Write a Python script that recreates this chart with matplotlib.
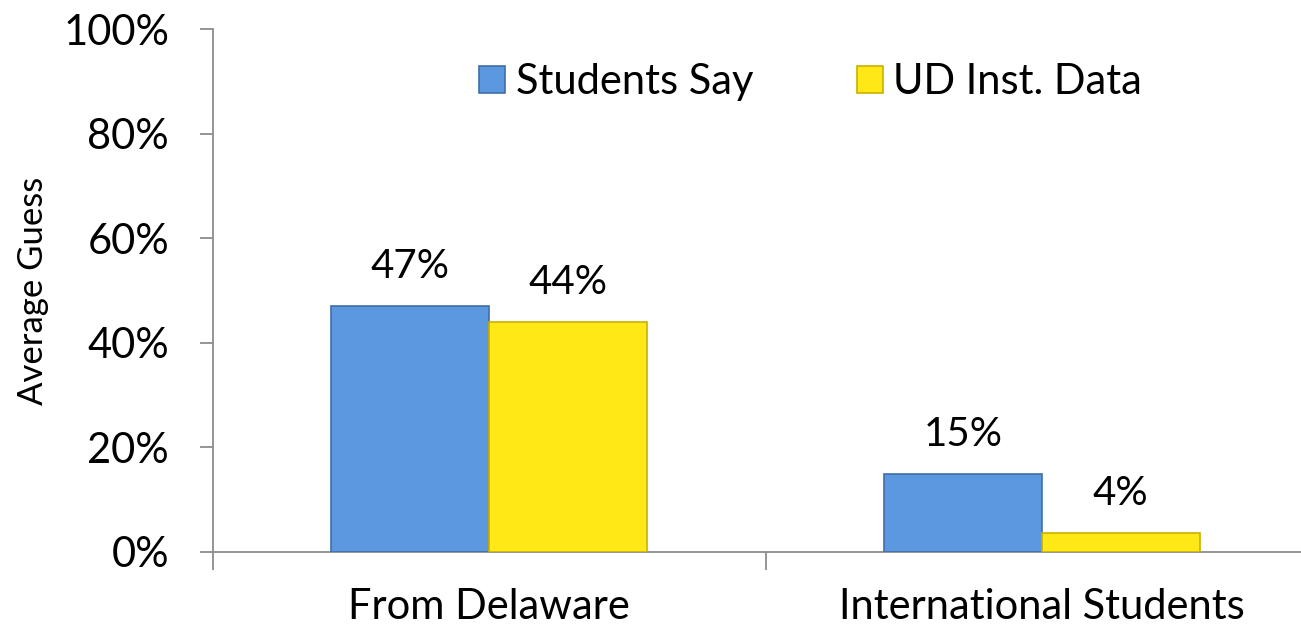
import matplotlib.pyplot as plt
import numpy as np

plt.rcParams['font.family'] = ['Lato', 'DejaVu Sans']

categorias = ['From Delaware', 'International Students']
series = ['Students Say', 'UD Inst. Data']
valores_alunos = [0.47, 0.15]
valores_ud = [0.44, 0.036]
cores = ['#5B98DF', '#FFE815']
bordas = ['#3F6FA8', '#C9B000']

fig = plt.figure(figsize=(13.01, 6.33), dpi=100)
ax = fig.add_axes([0.1637, 0.128, 0.8494, 0.826])

x = np.arange(len(categorias))
largura = 0.286

b1 = ax.bar(x - largura/2, valores_alunos, largura, color=cores[0], edgecolor=bordas[0],
            linewidth=1.2, label=series[0], zorder=3)
b2 = ax.bar(x + largura/2, valores_ud, largura, color=cores[1], edgecolor=bordas[1],
            linewidth=1.2, label=series[1], zorder=3)

for barras, valores in [(b1, valores_alunos), (b2, valores_ud)]:
    for barra, v in zip(barras, valores):
        ax.text(barra.get_x() + barra.get_width()/2, v + 0.04, f'{v:.0%}',
                ha='center', va='bottom', fontsize=29, color='black')

ax.set_xlim(-0.5, 1.5)
ax.set_ylim(0, 1)
ticks_y = np.arange(0, 1.01, 0.2)
ax.set_yticks(ticks_y)
ax.set_yticklabels([f'{int(round(t*100))}%' for t in ticks_y], fontsize=30)
ax.set_xticks([-0.5, 0.5], minor=False)
ax.set_xticklabels(['', ''])
ax.set_xticks(x, minor=True)
ax.set_xticklabels(categorias, minor=True, fontsize=30)
ax.tick_params(axis='x', which='minor', length=0, pad=26)
ax.tick_params(axis='x', which='major', length=13, color='#8C8C8C', width=1.3)
ax.tick_params(axis='y', length=9.5, color='#8C8C8C', width=1.3, pad=22)

for lado in ['top', 'right']:
    ax.spines[lado].set_visible(False)
for lado in ['left', 'bottom']:
    ax.spines[lado].set_color('#8C8C8C')
    ax.spines[lado].set_linewidth(1.3)

ax.set_ylabel('Average Guess', fontsize=25, labelpad=10)

ax.legend(loc='center', bbox_to_anchor=(0.541, 0.899), ncol=2, frameon=False,
          fontsize=30, handlelength=0.62, handleheight=0.62, handletextpad=0.25,
          columnspacing=2.5, borderaxespad=0, borderpad=0)

plt.savefig('out.png', dpi=100)
plt.close()
